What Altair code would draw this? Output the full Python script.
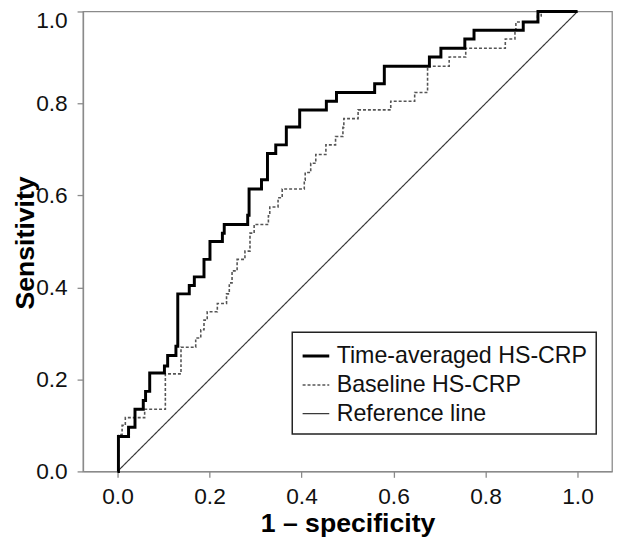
import altair as alt
import pandas as pd

# ---- data (step corners: x where the rise happens, y after rise)
series_names = ["Time-averaged HS-CRP", "Baseline HS-CRP", "Reference line"]

time_fpr = [0.000, 0.002, 0.024, 0.038, 0.056, 0.061, 0.070, 0.102, 0.109, 0.127,
            0.131, 0.156, 0.167, 0.188, 0.201, 0.228, 0.232, 0.283, 0.286, 0.313,
            0.326, 0.344, 0.367, 0.396, 0.454, 0.476, 0.559, 0.580, 0.678, 0.703,
            0.755, 0.775, 0.882, 0.914, 1.000]
time_tpr = [0.000, 0.076, 0.096, 0.135, 0.154, 0.174, 0.214, 0.229, 0.252, 0.272,
            0.386, 0.404, 0.423, 0.461, 0.500, 0.518, 0.537, 0.557, 0.614, 0.634,
            0.691, 0.710, 0.749, 0.786, 0.805, 0.824, 0.843, 0.881, 0.901, 0.920,
            0.940, 0.959, 0.977, 1.000, 1.000]

base_fpr = [0.000, 0.002, 0.010, 0.017, 0.059, 0.104, 0.138, 0.170, 0.181, 0.188,
            0.195, 0.217, 0.237, 0.243, 0.249, 0.260, 0.277, 0.288, 0.297, 0.328,
            0.331, 0.349, 0.358, 0.406, 0.408, 0.420, 0.431, 0.453, 0.474, 0.490,
            0.492, 0.523, 0.594, 0.646, 0.674, 0.721, 0.757, 0.843, 0.864, 0.866,
            0.913, 0.921, 1.000]
base_tpr = [0.000, 0.080, 0.100, 0.117, 0.135, 0.212, 0.270, 0.290, 0.308, 0.329,
            0.347, 0.365, 0.386, 0.410, 0.436, 0.461, 0.479, 0.518, 0.537, 0.556,
            0.575, 0.595, 0.614, 0.633, 0.650, 0.670, 0.689, 0.710, 0.728, 0.748,
            0.767, 0.786, 0.805, 0.824, 0.881, 0.901, 0.920, 0.940, 0.960, 0.977,
            0.990, 1.000, 1.000]

ref_fpr = [0.0, 1.0]
ref_tpr = [0.0, 1.0]

x_ticks = [0.0, 0.2, 0.4, 0.6, 0.8, 1.0]
y_ticks = [0.0, 0.2, 0.4, 0.6, 0.8, 1.0]


def frame(xs, ys, name):
    return pd.DataFrame({"fpr": xs, "tpr": ys, "series": name, "idx": range(len(xs))})


df_time = frame(time_fpr, time_tpr, series_names[0])
df_base = frame(base_fpr, base_tpr, series_names[1])
df_ref = frame(ref_fpr, ref_tpr, series_names[2])

FONT = "Liberation Sans"

x_enc = alt.X(
    "fpr:Q",
    scale=alt.Scale(domain=[-0.075, 1.075], nice=False, zero=False),
    axis=alt.Axis(
        values=x_ticks, format=".1f", title="1 – specificity", grid=False,
        tickSize=6, labelPadding=9, titleY=61, titleBaseline="alphabetic",
    ),
)
y_enc = alt.Y(
    "tpr:Q",
    scale=alt.Scale(domain=[0, 1], nice=False, zero=False),
    axis=alt.Axis(
        values=y_ticks, format=".1f", title="Sensitivity", grid=False,
        tickSize=6, labelPadding=10,
        labelOffset={"condition": {"test": "datum.value == 1", "value": 9}, "value": 0},
        titleX=-58, titleY=234, titleAngle=-90, titleBaseline="middle", titleAlign="center",
    ),
)
color_enc = alt.Color(
    "series:N", title=None,
    scale=alt.Scale(domain=series_names, range=["#000000", "#555555", "#3a3a3a"]),
)
dash_enc = alt.StrokeDash(
    "series:N", title=None,
    scale=alt.Scale(domain=series_names, range=[[1, 0], [3, 2], [1, 0]]),
)
width_enc = alt.StrokeWidth(
    "series:N", title=None,
    scale=alt.Scale(type="ordinal", domain=series_names, range=[3, 1.6, 1.2]),
)


def layer(df, interp):
    return alt.Chart(df).mark_line(interpolate=interp).encode(
        x=x_enc, y=y_enc, color=color_enc, strokeDash=dash_enc,
        strokeWidth=width_enc, order="idx:Q",
    )


chart = alt.layer(
    layer(df_ref, "linear"),
    layer(df_base, "step-after"),
    layer(df_time, "step-after"),
).properties(
    width=536, height=466,
    autosize=alt.AutoSizeParams(type="none"),
    padding={"left": 76, "top": 0, "right": 2, "bottom": 68},
).configure_view(
    stroke="#8a8a8a", strokeWidth=1.3,
).configure_axis(
    domainColor="#8a8a8a", domainWidth=1.3, tickColor="#8a8a8a", tickWidth=1.3,
    labelFont=FONT, labelFontSize=23, labelColor="#111111",
    titleFont=FONT, titleFontSize=27, titleFontWeight="bold", titleColor="#000000",
).configure_legend(
    orient="none", legendX=212, legendY=325, padding=9,
    strokeColor="#222222", strokeWidth=1.5, fillColor="white", cornerRadius=0,
    symbolType="stroke", symbolSize=729, labelFont=FONT, labelFontSize=23.5,
    labelColor="#111111", labelOffset=6, rowPadding=3, labelLimit=0,
)

chart.save("out.html", embed_options={"renderer": "svg", "actions": False})
